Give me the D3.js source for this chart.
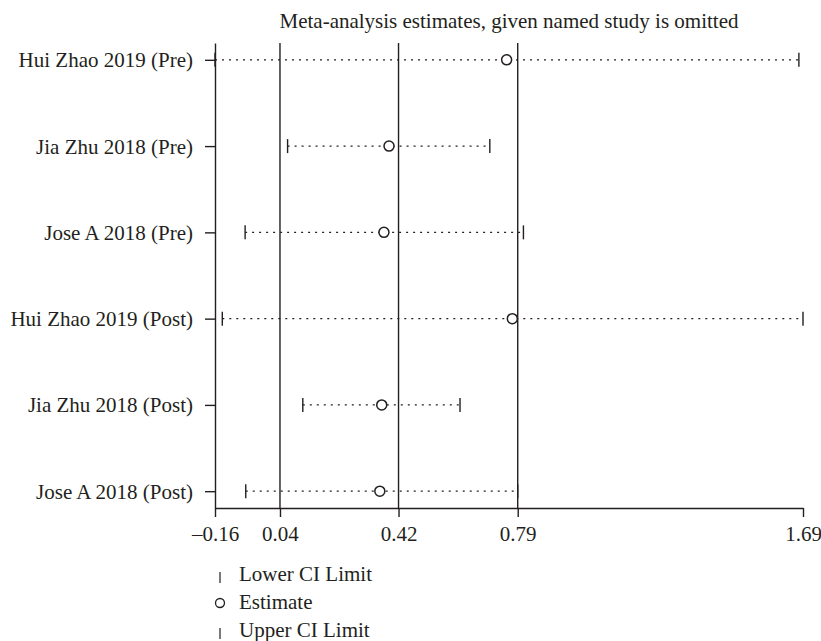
<!DOCTYPE html>
<html lang="en">
<head>
    <meta charset="UTF-8">
    <title>Meta-analysis influence plot</title>
    <style>
        body { margin: 0; background: #fff; }
        svg text { font-family: 'Liberation Serif', 'DejaVu Serif', serif; fill: #231f20; }
        .axis path, .axis line { stroke: #231f20; stroke-width: 1.4; }
    </style>
</head>
<body>

<div id="chart"></div>

<script src="https://d3js.org/d3.v7.min.js"></script>

<script>
    const width = 821, height = 641;

    // studies (one row each), top to bottom
    const studies = [
        "Hui Zhao 2019 (Pre)",
        "Jia Zhu 2018 (Pre)",
        "Jose A 2018 (Pre)",
        "Hui Zhao 2019 (Post)",
        "Jia Zhu 2018 (Post)",
        "Jose A 2018 (Post)"
    ];
    const lowerCI  = [-0.165, 0.064, -0.070, -0.142, 0.112, -0.068];
    const estimate = [ 0.755, 0.384,  0.368,  0.773, 0.361,  0.355];
    const upperCI  = [ 1.677, 0.702,  0.808,  1.690, 0.608,  0.790];

    // overall estimate and its CI (reference lines)
    const refLines = [0.04, 0.414, 0.79];

    const tickValues = [-0.165, 0.04, 0.414, 0.79, 1.69];
    const tickLabels = ["\u20130.16", "0.04", "0.42", "0.79", "1.69"];

    const legendItems = ["Lower CI Limit", "Estimate", "Upper CI Limit"];

    const ink = "#231f20";
    const fontSize = "21px";

    const svg = d3.select("#chart").append("svg")
        .attr("width", width)
        .attr("height", height);

    const x = d3.scaleLinear().domain([-0.165, 1.69]).range([215, 803]);
    const y = d3.scalePoint().domain(studies).range([43, 508]).padding(0.195);

    // title
    svg.append("text")
        .attr("x", (x.range()[0] + x.range()[1]) / 2)
        .attr("y", 28)
        .attr("text-anchor", "middle")
        .style("font-size", fontSize)
        .text("Meta-analysis estimates, given named study is omitted");

    // reference lines
    svg.selectAll(".ref").data(refLines).enter().append("line")
        .attr("class", "ref")
        .attr("x1", d => x(d)).attr("x2", d => x(d))
        .attr("y1", 43).attr("y2", 508)
        .attr("stroke", ink).attr("stroke-width", 1.4);

    // axes
    const xAxis = svg.append("g")
        .attr("class", "axis")
        .attr("transform", "translate(0,508)")
        .call(d3.axisBottom(x)
            .tickValues(tickValues)
            .tickFormat((d, i) => tickLabels[i])
            .tickSize(9)
            .tickSizeOuter(0));
    xAxis.selectAll("text").style("font-size", fontSize).attr("y", 18);

    const yAxis = svg.append("g")
        .attr("class", "axis")
        .attr("transform", "translate(215,0)")
        .call(d3.axisLeft(y).tickSize(10).tickSizeOuter(0));
    yAxis.selectAll("text").style("font-size", fontSize).attr("x", -22).attr("dy", "0.33em");

    // CI dotted lines
    const rows = svg.append("g").selectAll("g").data(studies).enter().append("g");

    rows.append("line")
        .attr("x1", (d, i) => x(lowerCI[i]))
        .attr("x2", (d, i) => x(upperCI[i]))
        .attr("y1", d => y(d)).attr("y2", d => y(d))
        .attr("stroke", ink).attr("stroke-width", 1.2)
        .attr("stroke-dasharray", "2,5");

    rows.append("line")
        .attr("x1", (d, i) => x(lowerCI[i])).attr("x2", (d, i) => x(lowerCI[i]))
        .attr("y1", d => y(d) - 7).attr("y2", d => y(d) + 7)
        .attr("stroke", ink).attr("stroke-width", 1.4);

    rows.append("line")
        .attr("x1", (d, i) => x(upperCI[i])).attr("x2", (d, i) => x(upperCI[i]))
        .attr("y1", d => y(d) - 7).attr("y2", d => y(d) + 7)
        .attr("stroke", ink).attr("stroke-width", 1.4);

    rows.append("circle")
        .attr("cx", (d, i) => x(estimate[i]))
        .attr("cy", d => y(d))
        .attr("r", 5)
        .attr("fill", "#fff")
        .attr("stroke", ink).attr("stroke-width", 1.5);

    // legend
    const legend = svg.append("g").selectAll("g").data(legendItems).enter().append("g")
        .attr("transform", (d, i) => `translate(220,${581 + i * 28})`);

    legend.filter((d, i) => i !== 1).append("line")
        .attr("y1", -9).attr("y2", 2)
        .attr("stroke", ink).attr("stroke-width", 1.2);
    legend.filter((d, i) => i === 1).append("circle")
        .attr("cy", -6).attr("r", 4.5)
        .attr("fill", "none").attr("stroke", ink).attr("stroke-width", 1.3);

    legend.append("text")
        .attr("x", 19)
        .style("font-size", fontSize)
        .text(d => d);
</script>

</body>
</html>
